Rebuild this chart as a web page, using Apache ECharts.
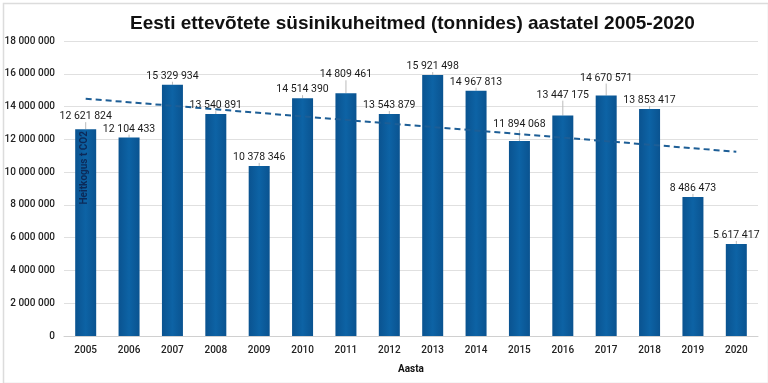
<!DOCTYPE html>
<html>
<head>
<meta charset="utf-8">
<script src="https://cdn.jsdelivr.net/npm/echarts@6/dist/echarts.min.js"></script>
<style>
html,body{margin:0;padding:0;background:#fff;}
#c{width:768px;height:383px;}
</style>
</head>
<body>
<div id="c"></div>
<script>
const years = ['2005','2006','2007','2008','2009','2010','2011','2012','2013','2014','2015','2016','2017','2018','2019','2020'];
const emissions = [12621824,12104433,15329934,13540891,10378346,14514390,14809461,13543879,15921498,14967813,11894068,13447175,14670571,13853417,8486473,5617417];
const trendStart = 14480000;
const trendEnd = 11240000;
const yTicks = [0,2000000,4000000,6000000,8000000,10000000,12000000,14000000,16000000,18000000];

// label lift (px) for labels drawn with a leader line
const labelLift = {0:4, 6:10, 10:8, 11:12, 12:9};

function fmt(v){ return String(v).replace(/\B(?=(\d{3})+(?!\d))/g,' '); }

const chart = echarts.init(document.getElementById('c'));
chart.setOption({
  animation:false,
  backgroundColor:'#fff',
  title:{
    text:'Eesti ettevõtete süsinikuheitmed (tonnides) aastatel 2005-2020',
    left:125, top:9,
    textStyle:{fontFamily:'Liberation Sans', fontWeight:'bold', fontSize:19, color:'#111'}
  },
  grid:{left:64, right:10, top:41, bottom:47},
  xAxis:{
    type:'category', data:years,
    name:'Aasta', nameLocation:'middle', nameGap:28,
    nameTextStyle:{fontFamily:'Roboto', fontWeight:'bold', fontSize:10, color:'#111'},
    axisTick:{show:false},
    axisLine:{lineStyle:{color:'#d0d0d0'}},
    axisLabel:{fontFamily:'Roboto', fontSize:10, fontWeight:500, color:'#222', margin:9}
  },
  yAxis:{
    type:'value', min:yTicks[0], max:yTicks[yTicks.length-1], interval:yTicks[1]-yTicks[0],
    axisLine:{show:false}, axisTick:{show:false},
    splitLine:{lineStyle:{color:'#e0e0e0'}},
    axisLabel:{fontFamily:'Roboto', fontSize:10, fontWeight:500, color:'#222', margin:9, formatter:fmt}
  },
  series:[
    {
      type:'bar', data:emissions, barWidth:21,
      itemStyle:{color:new echarts.graphic.LinearGradient(0,0,1,0,[
        {offset:0,color:'#0a5390'},{offset:0.5,color:'#0d63a5'},{offset:1,color:'#0a5390'}])},
      label:{show:true, position:'top', distance:3, formatter:p=>fmt(p.value),
        fontFamily:'Roboto', fontSize:10.5, color:'#1a1a1a'},
      labelLine:{show:true, lineStyle:{color:'#bbb', width:1}},
      labelLayout:function(p){ const l = labelLift[p.dataIndex]; return l ? {dy:-l} : {}; },
      z:2
    },
    {
      type:'line', data:[[years[0],trendStart],[years[years.length-1],trendEnd]],
      symbol:'none', silent:true,
      lineStyle:{color:'#1d5e96', width:2, type:[6,4]},
      z:3
    }
  ],
  graphic:[
    {type:'text', left:79, top:131, rotation:Math.PI/2,
      style:{text:'Heitkogus t CO2', font:'bold 10px Roboto', fill:'#0c2a58'}, z:10},
    {type:'rect', left:1, top:1, silent:true,
      shape:{width:765, height:380},
      style:{fill:'none', stroke:'#dcdcdc', lineWidth:1.5}, z:0}
  ]
});
</script>
</body>
</html>
